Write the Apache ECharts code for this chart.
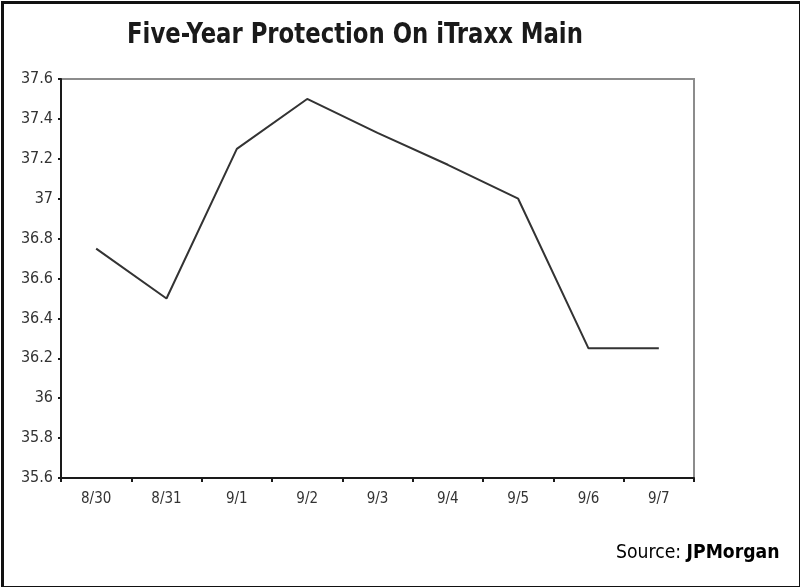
<!DOCTYPE html>
<html lang="en">

<head>
    <meta charset="UTF-8">
    <title>iTraxx Main</title>
    <script src="https://cdn.jsdelivr.net/npm/echarts@6/dist/echarts.min.js"></script>
    <style>
        body { margin: 0; background: #fff; }
    </style>
</head>

<body>
    <div id="main" style="width: 800px; height: 587px;"></div>
    <script>
        // dates on the x axis
        var dates = ['8/30', '8/31', '9/1', '9/2', '9/3', '9/4', '9/5', '9/6', '9/7'];
        // five-year protection, bp
        var protection = [36.75, 36.5, 37.25, 37.5, 37.33, 37.17, 37.0, 36.25, 36.25];

        var narrow = '"DejaVu Sans Condensed", "Liberation Sans Narrow", sans-serif';

        var myChart = echarts.init(document.getElementById('main'));

        myChart.setOption({
            animation: false,
            grid: {
                left: 61,
                right: 106,
                top: 79,
                bottom: 109,
                show: true,
                borderColor: '#8c8c8c',
                borderWidth: 2
            },
            xAxis: {
                type: 'category',
                data: dates,
                boundaryGap: true,
                axisLine: { lineStyle: { color: '#1a1a1a', width: 2 } },
                axisTick: { show: true, length: 4, lineStyle: { color: '#1a1a1a', width: 2 } },
                axisLabel: {
                    margin: 14,
                    fontFamily: narrow,
                    fontSize: 15,
                    color: '#333'
                }
            },
            yAxis: {
                type: 'value',
                min: 35.6,
                max: 37.6,
                interval: 0.2,
                axisLine: { show: true, lineStyle: { color: '#1a1a1a', width: 2 } },
                axisTick: { show: true, length: 3, lineStyle: { color: '#1a1a1a', width: 2 } },
                splitLine: { show: false },
                axisLabel: {
                    margin: 8,
                    fontFamily: narrow,
                    fontSize: 16,
                    color: '#333',
                    formatter: function (v) {
                        return String(Math.round(v * 10) / 10);
                    }
                }
            },
            series: [
                {
                    type: 'line',
                    data: protection,
                    symbol: 'none',
                    lineStyle: { color: '#333', width: 2 }
                }
            ],
            graphic: [
                {
                    type: 'rect',
                    left: 0,
                    top: 0,
                    shape: { width: 798, height: 585 },
                    style: { fill: 'none', stroke: '#111', lineWidth: 3 },
                    silent: true
                },
                {
                    // condensed bold title, squeezed to the reference width
                    type: 'text',
                    x: 127,
                    y: 22,
                    scaleX: 0.905,
                    style: {
                        text: 'Five-Year Protection On iTraxx Main',
                        fontFamily: narrow,
                        fontWeight: 'bold',
                        fontSize: 28,
                        fill: '#1a1a1a',
                        verticalAlign: 'top'
                    }
                },
                {
                    type: 'text',
                    x: 616,
                    y: 543,
                    scaleX: 0.96,
                    style: {
                        text: '{n|Source: }{b|JPMorgan}',
                        verticalAlign: 'top',
                        rich: {
                            n: { fontFamily: narrow, fontSize: 20, color: '#333' },
                            b: { fontFamily: narrow, fontSize: 20, fontWeight: 'bold', color: '#111' }
                        }
                    }
                }
            ]
        });
    </script>
</body>

</html>
